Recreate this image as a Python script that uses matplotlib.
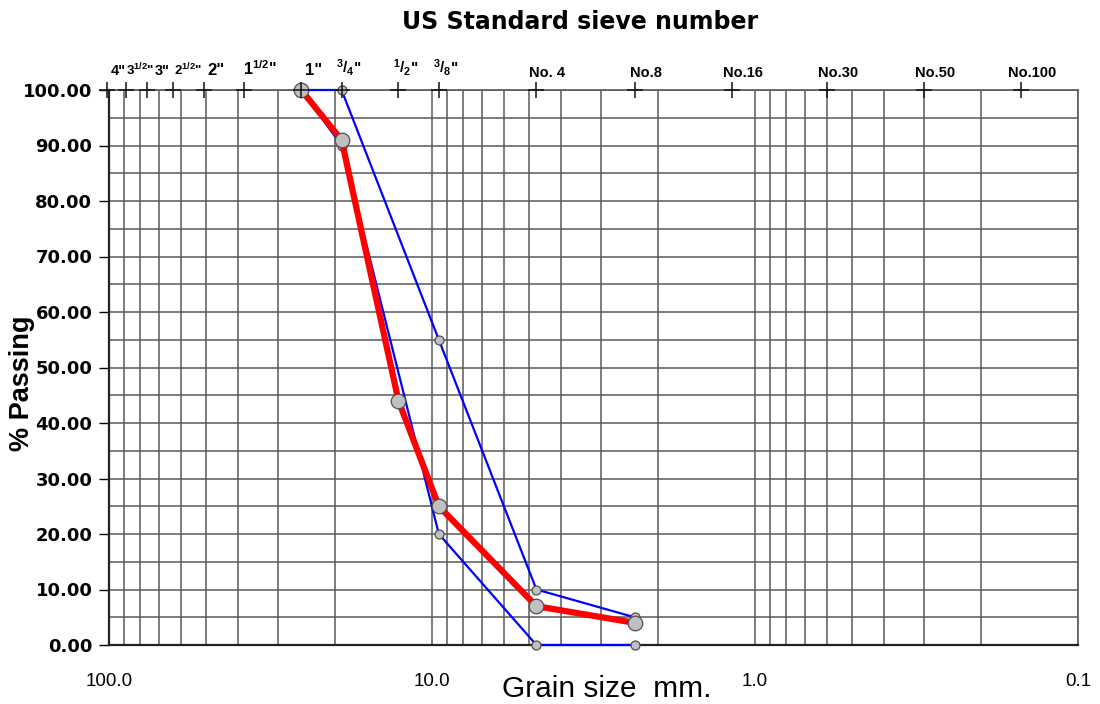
import matplotlib
matplotlib.use("Agg")
import matplotlib.pyplot as plt
from matplotlib import font_manager
from matplotlib.ticker import LogLocator, NullFormatter, FixedLocator
import numpy as np

# ---------------- data ----------------
sieve_sizes = [101.6, 88.9, 76.2, 63.5, 50.8, 38.1, 25.4, 19.05, 12.7, 9.525,
               4.75, 2.36, 1.18, 0.60, 0.30, 0.15]
sieve_labels = ['4"', '3$^{1/2}$"', '3"', '2$^{1/2}$"', '2"', '1$^{1/2}$"', '1"',
                '$^{3}/_{4}$"', '$^{1}/_{2}$"', '$^{3}/_{8}$"',
                'No. 4', 'No.8', 'No.16', 'No.30', 'No.50', 'No.100']

sample_sizes = [25.4, 19.05, 12.7, 9.525, 4.75, 2.36]
sample_passing = [100, 91, 44, 25, 7, 4]

spec_sizes = [25.4, 19.05, 9.525, 4.75, 2.36]
spec_upper = [100, 100, 55, 10, 5]
spec_lower = [100, 90, 20, 0, 0]

xtick_values = [100, 10, 1, 0.1]
xtick_labels = ['100.0', '10.0', '1.0', '0.1']
ytick_values = [0, 10, 20, 30, 40, 50, 60, 70, 80, 90, 100]

# ---------------- fonts ----------------
names = {f.name for f in font_manager.fontManager.ttflist}
base = 'Liberation Sans' if 'Liberation Sans' in names else 'DejaVu Sans'
wide = 'DejaVu Sans'
plt.rcParams['font.family'] = [base, 'DejaVu Sans']
plt.rcParams['mathtext.fontset'] = 'custom'
plt.rcParams['mathtext.rm'] = base + ':bold'
plt.rcParams['mathtext.it'] = base + ':bold'
plt.rcParams['mathtext.bf'] = base + ':bold'

W, H = 1100, 704
fig = plt.figure(figsize=(W / 100, H / 100), dpi=100)
L, R, T, B = 109, 1078, 90, 645
ax = fig.add_axes([L / W, 1 - B / H, (R - L) / W, (B - T) / H])

ax.set_xscale('log')
ax.set_xlim(100, 0.1)
ax.set_ylim(0, 100)

grid_c = '#5a5a5a'
ax.xaxis.set_major_locator(FixedLocator(xtick_values))
ax.xaxis.set_minor_locator(LogLocator(base=10, subs=np.arange(2, 10)))
ax.xaxis.set_minor_formatter(NullFormatter())
ax.set_xticks(xtick_values)
ax.set_xticklabels(xtick_labels, fontsize=13.5)
ax.tick_params(axis='x', which='both', length=0, pad=20)
ax.grid(True, which='both', axis='x', color=grid_c, lw=1.1)

ax.set_yticks(ytick_values)
ax.set_yticks(np.arange(5, 100, 10), minor=True)
ax.set_yticklabels(['%.2f' % v for v in ytick_values], fontsize=13,
                   fontweight='bold', fontfamily=wide)
ax.tick_params(axis='y', which='major', direction='out', length=7, width=1, pad=5)
ax.tick_params(axis='y', which='minor', length=0)
ax.grid(True, which='both', axis='y', color=grid_c, lw=1.1)
ax.set_axisbelow(True)

for s in ['left', 'bottom']:
    ax.spines[s].set_color('#222222')
    ax.spines[s].set_linewidth(1.6)
for s in ['top', 'right']:
    ax.spines[s].set_color(grid_c)
    ax.spines[s].set_linewidth(1.2)

# spec limits (blue)
for yv in (spec_upper, spec_lower):
    ax.plot(spec_sizes, yv, color='#0000ff', lw=1.6, zorder=3,
            marker='o', ms=6.5, mfc='#c0c0c0', mec='#505050', mew=0.9, clip_on=False)

# sample (red)
ax.plot(sample_sizes, sample_passing, color='#ff0000', lw=4.5, zorder=4,
        marker='o', ms=10.5, mfc='#c0c0c0', mec='#505050', mew=0.9, clip_on=False)

# sieve "+" marks on top edge
ax.plot(sieve_sizes, [100] * len(sieve_sizes), ls='none', marker='+', ms=11,
        mew=1.1, color='#111111', zorder=6, clip_on=False)

# sieve labels
for sz, lab in zip(sieve_sizes, sieve_labels):
    if lab.startswith('No'):
        fs, dx, dy = 10.5, 11, 10
    elif lab.startswith('$'):
        fs, dx, dy = 11, 7, 12
    elif '$' in lab:
        fs, dx, dy = (9.5 if sz > 55 else 11.5), 15, 12
    else:
        fs, dx, dy = (10.5 if sz > 55 else 12), 12, 12
    if sz > 70 and '$' not in lab and sz < 100:
        dx = 15
    ax.annotate(lab, xy=(sz, 100), xycoords='data', xytext=(dx, dy),
                textcoords='offset pixels', ha='center', va='bottom',
                fontsize=fs, fontweight='bold', annotation_clip=False)

fig.text(580 / W, 1 - 22 / H, 'US Standard sieve number', ha='center', va='center',
         fontsize=17, fontweight='bold', fontfamily=wide)
fig.text(22 / W, 1 - 383 / H, '% Passing', ha='center', va='center', rotation=90,
         fontsize=19.5, fontweight='bold')
fig.text(607 / W, 1 - 689 / H, 'Grain size  mm.', ha='center', va='center',
         fontsize=21.5)

fig.savefig('out.png', dpi=100)
